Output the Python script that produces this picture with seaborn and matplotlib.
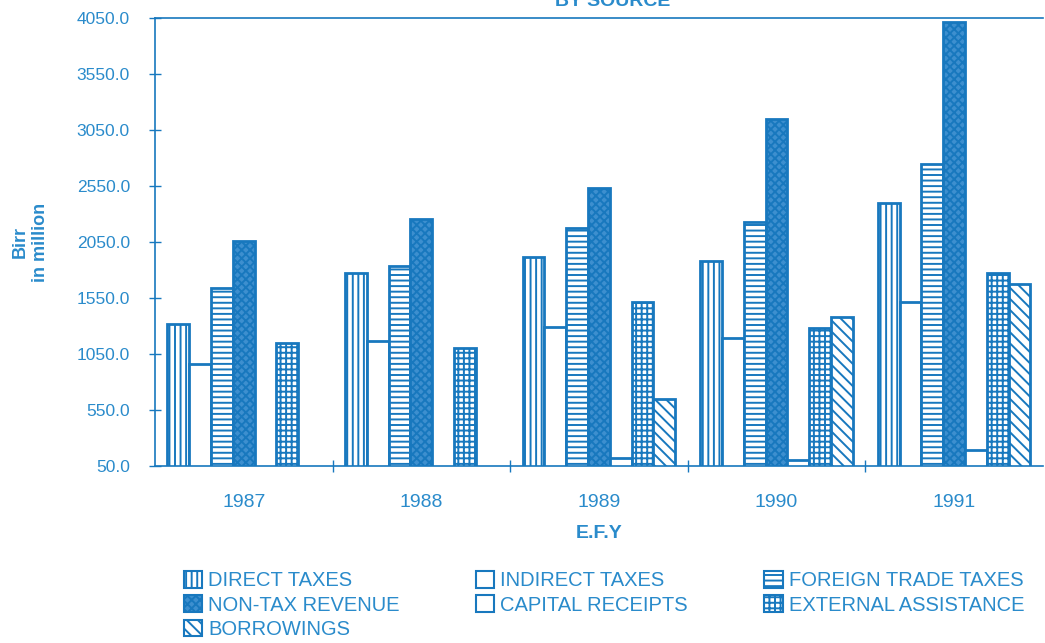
import numpy as np
import pandas as pd
import seaborn as sns
import matplotlib.pyplot as plt
from matplotlib.patches import Patch

# values (Birr in million)
years = ['1987', '1988', '1989', '1990', '1991']
direct_taxes = [1320, 1770, 1915, 1880, 2400]
indirect_taxes = [960, 1165, 1290, 1195, 1515]
foreign_trade_taxes = [1640, 1835, 2175, 2230, 2745]
non_tax_revenue = [2060, 2255, 2530, 3150, 4015]
capital_receipts = [0, 0, 120, 100, 195]
external_assistance = [1150, 1105, 1515, 1280, 1775]
borrowings = [0, 0, 650, 1380, 1675]

sources = ['DIRECT TAXES', 'INDIRECT TAXES', 'FOREIGN TRADE TAXES',
           'NON-TAX REVENUE', 'CAPITAL RECEIPTS', 'EXTERNAL ASSISTANCE',
           'BORROWINGS']
series = [direct_taxes, indirect_taxes, foreign_trade_taxes, non_tax_revenue,
          capital_receipts, external_assistance, borrowings]

df = pd.DataFrame([
    {'year': y, 'source': s, 'value': v}
    for s, vals in zip(sources, series)
    for y, v in zip(years, vals)
])

blue = '#1878be'
text_blue = '#2a8bcb'
hatches = ['|||', '', '---', 'xxxx', '', '+++', '\\\\\\']
faces = ['white', 'white', 'white', '#3d8fcf', 'white', 'white', 'white']

plt.rcParams['font.family'] = ['Liberation Sans', 'DejaVu Sans']
plt.rcParams['hatch.linewidth'] = 1.4
plt.rcParams['hatch.color'] = blue

fig = plt.figure(figsize=(10.45, 6.43), dpi=100)
ax = fig.add_axes([0.1483, 0.2753, 0.8497, 0.6967])

sns.barplot(data=df, x='year', y='value', hue='source', hue_order=sources,
            width=0.86, gap=0, ax=ax, legend=False, color='white')

for cont, h, fc in zip(ax.containers, hatches, faces):
    for bar in cont:
        bar.set_facecolor(fc)
        bar.set_edgecolor(blue)
        bar.set_linewidth(2)
        bar.set_hatch(h)

ax.set_ylim(50, 4050)
ax.set_xlim(-0.5, 4.5)
ax.set_yticks(np.arange(50, 4051, 500))
ax.set_yticklabels([f'{v:.1f}' for v in np.arange(50, 4051, 500)])
ax.set_xticks(range(5))
ax.set_xticklabels(years)
ax.set_xticks(np.arange(0.5, 4.5, 1), minor=True)

ax.tick_params(axis='y', direction='inout', length=8, width=1, color=blue,
               labelcolor=text_blue, labelsize=12.5, pad=14)
ax.tick_params(axis='x', which='major', length=0, labelcolor=text_blue,
               labelsize=14, pad=20)
ax.tick_params(axis='x', which='minor', direction='inout', length=8,
               width=1, color=blue)

for side in ['left', 'top', 'bottom']:
    ax.spines[side].set_color(blue)
    ax.spines[side].set_linewidth(1.2)
ax.spines['right'].set_visible(False)

ax.set_xlabel('E.F.Y', color=text_blue, fontsize=14, fontweight='bold',
              labelpad=10)
ax.set_ylabel('Birr\nin million', color=text_blue, fontsize=13,
              fontweight='bold', labelpad=20)

fig.text(0.586, 0.997, 'BY SOURCE', color=text_blue, fontsize=14,
         fontweight='bold', ha='center', va='center')

# legend filled column by column so it reads row-wise like the original
handles = [Patch(facecolor=fc, edgecolor=blue, hatch=h, linewidth=1.5,
                 label=s) for s, h, fc in zip(sources, hatches, faces)]
order = [0, 3, 6, 1, 4, 2, 5]
leg = fig.legend([handles[i] for i in order], [sources[i] for i in order],
                 loc='upper left', bbox_to_anchor=(0.176, 0.112), ncol=3,
                 frameon=False, fontsize=14.5, handlelength=0.9,
                 handleheight=0.9, handletextpad=0.3, columnspacing=3.8,
                 labelspacing=0.25, borderpad=0, borderaxespad=0)
for t in leg.get_texts():
    t.set_color(text_blue)

fig.savefig('out.png', dpi=100)
